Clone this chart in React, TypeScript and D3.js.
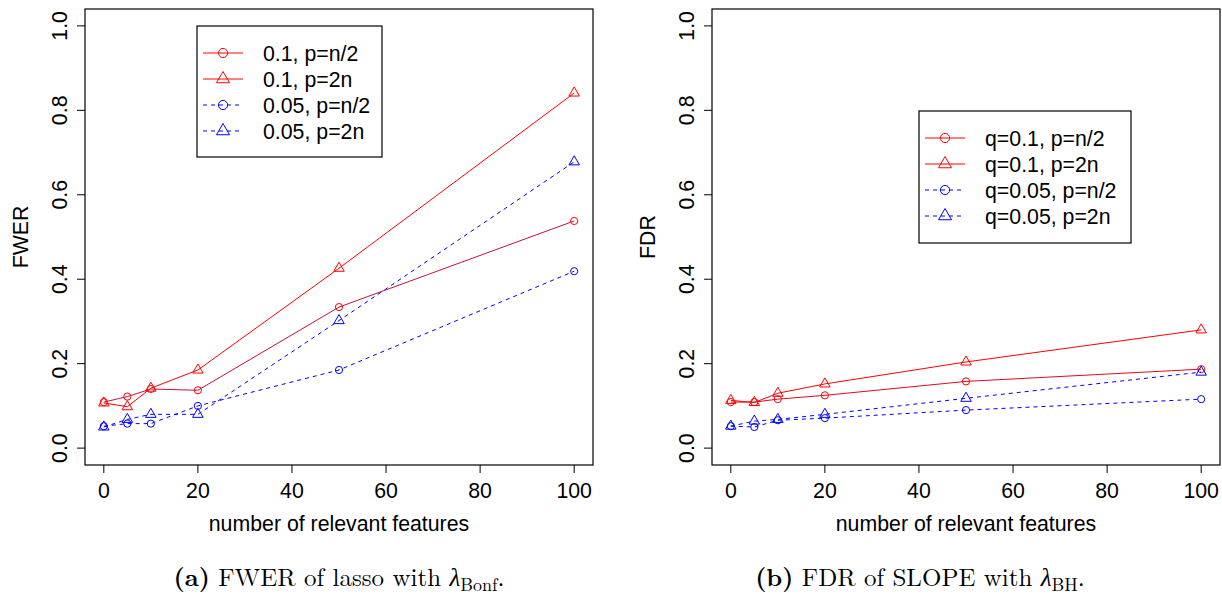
import React from "react";
import * as d3 from "d3";

const xs = [0, 5, 10, 20, 50, 100];
const xTicks = [0, 20, 40, 60, 80, 100];
const yTicks = [0, 0.2, 0.4, 0.6, 0.8, 1.0];

// Left panel (FWER of lasso)
const fwerHalf01 = [0.109, 0.122, 0.14, 0.137, 0.334, 0.538];
const fwer2n01 = [0.107, 0.098, 0.142, 0.185, 0.426, 0.841];
const fwerHalf005 = [0.052, 0.058, 0.058, 0.1, 0.185, 0.419];
const fwer2n005 = [0.05, 0.068, 0.08, 0.08, 0.302, 0.678];

// Right panel (FDR of SLOPE)
const fdrHalf01 = [0.109, 0.109, 0.116, 0.125, 0.158, 0.187];
const fdr2n01 = [0.113, 0.108, 0.13, 0.152, 0.204, 0.28];
const fdrHalf005 = [0.052, 0.05, 0.066, 0.071, 0.09, 0.116];
const fdr2n005 = [0.052, 0.064, 0.068, 0.08, 0.118, 0.18];

const leftLabels = ["0.1, p=n/2", "0.1, p=2n", "0.05, p=n/2", "0.05, p=2n"];
const rightLabels = ["q=0.1, p=n/2", "q=0.1, p=2n", "q=0.05, p=n/2", "q=0.05, p=2n"];

type Series = { values: number[]; color: string; lineColor: string; dashed: boolean; shape: "circle" | "triangle" };

const FONT = "'Liberation Sans', Arial, Helvetica, sans-serif";
const FS = 21.3;

function Marker({ x, y, shape, color, big }: { x: number; y: number; shape: string; color: string; big?: boolean }) {
  if (shape === "circle") {
    return <circle cx={x} cy={y} r={big ? 4.6 : 3.6} fill="none" stroke={color} strokeWidth={1} />;
  }
  const w = big ? 13 : 10.5;
  const area = (Math.sqrt(3) / 4) * w * w;
  const p = d3.symbol(d3.symbolTriangle, area)() as string;
  return <path d={p} transform={`translate(${x},${y})`} fill="none" stroke={color} strokeWidth={1} />;
}

function Panel({
  left, series, labels, ylab, legend,
}: {
  left: number; series: Series[]; labels: string[]; ylab: string;
  legend: { x: number; y: number; w: number; h: number };
}) {
  const x = d3.scaleLinear().domain([-4, 104]).range([left, left + 508]);
  const y = d3.scaleLinear().domain([-0.04, 1.04]).range([465, 9]);
  const line = d3.line<number>().x((_, i) => x(xs[i])).y((d) => y(d));
  const yb = y(-0.04);
  return (
    <g>
      <rect x={x(-4)} y={y(1.04)} width={x(104) - x(-4)} height={yb - y(1.04)} fill="none" stroke="#000" strokeWidth={1.2} />
      {xTicks.map((t) => (
        <g key={"x" + t}>
          <line x1={x(t)} x2={x(t)} y1={yb} y2={yb + 8} stroke="#000" strokeWidth={1} />
          <text x={x(t)} y={yb + 33} textAnchor="middle" fontFamily={FONT} fontSize={FS}>{t}</text>
        </g>
      ))}
      {yTicks.map((t) => (
        <g key={"y" + t}>
          <line x1={x(-4) - 8} x2={x(-4)} y1={y(t)} y2={y(t)} stroke="#000" strokeWidth={1} />
          <text transform={`translate(${x(-4) - 18},${y(t)}) rotate(-90)`} textAnchor="middle" fontFamily={FONT} fontSize={FS}>{t.toFixed(1)}</text>
        </g>
      ))}
      <text x={(x(-4) + x(104)) / 2} y={531} textAnchor="middle" fontFamily={FONT} fontSize={FS}>number of relevant features</text>
      <text transform={`translate(${x(-4) - 57},${(yb + y(1.04)) / 2}) rotate(-90)`} textAnchor="middle" fontFamily={FONT} fontSize={FS}>{ylab}</text>
      {series.map((s, i) => (
        <g key={"s" + i}>
          <path d={line(s.values) as string} fill="none" stroke={s.lineColor} strokeWidth={1} strokeDasharray={s.dashed ? "4,4" : undefined} />
          {s.values.map((v, j) => (
            <Marker key={j} x={x(xs[j])} y={y(v)} shape={s.shape} color={s.color} />
          ))}
        </g>
      ))}
      <rect x={legend.x} y={legend.y} width={legend.w} height={legend.h} fill="#fff" stroke="#000" strokeWidth={1.2} />
      {series.map((s, i) => {
        const ry = legend.y + 27 + i * 26;
        const lx = legend.x + 6;
        return (
          <g key={"l" + i}>
            <line x1={lx} x2={lx + 40} y1={ry} y2={ry} stroke={s.color} strokeWidth={1} strokeDasharray={s.dashed ? "4,4" : undefined} />
            <Marker x={lx + 20} y={ry} shape={s.shape} color={s.color} big />
            <text x={lx + 60} y={ry + 7.5} fontFamily={FONT} fontSize={FS}>{labels[i]}</text>
          </g>
        );
      })}
    </g>
  );
}

export default function App() {
  const leftSeries: Series[] = [
    { values: fwerHalf01, color: "#ff0000", lineColor: "#c4123c", dashed: false, shape: "circle" },
    { values: fwer2n01, color: "#ff0000", lineColor: "#ff0000", dashed: false, shape: "triangle" },
    { values: fwerHalf005, color: "#0000ff", lineColor: "#0000ff", dashed: true, shape: "circle" },
    { values: fwer2n005, color: "#0000ff", lineColor: "#0000ff", dashed: true, shape: "triangle" },
  ];
  const rightSeries: Series[] = [
    { values: fdrHalf01, color: "#ff0000", lineColor: "#e00a1e", dashed: false, shape: "circle" },
    { values: fdr2n01, color: "#ff0000", lineColor: "#ff0000", dashed: false, shape: "triangle" },
    { values: fdrHalf005, color: "#0000ff", lineColor: "#0000ff", dashed: true, shape: "circle" },
    { values: fdr2n005, color: "#0000ff", lineColor: "#0000ff", dashed: true, shape: "triangle" },
  ];
  const SERIF = "'Latin Modern Roman', 'Liberation Serif', 'DejaVu Serif', serif";
  return (
    <svg width={1222} height={598} style={{ position: "absolute", left: 0, top: 0, background: "#fff" }}>
      <rect width={1222} height={598} fill="#fff" />
      <Panel left={85} series={leftSeries} labels={leftLabels} ylab="FWER" legend={{ x: 197, y: 26, w: 185, h: 131 }} />
      <Panel left={712} series={rightSeries} labels={rightLabels} ylab="FDR" legend={{ x: 919, y: 111, w: 212, h: 132 }} />
      <text x={339} y={586} textAnchor="middle" fontFamily={SERIF} fontSize={25}>
        <tspan fontWeight="bold">(a)</tspan> FWER of lasso with <tspan fontStyle="italic">λ</tspan>
        <tspan fontSize={18} dy={5}>Bonf</tspan><tspan dy={-5}>.</tspan>
      </text>
      <text x={920} y={586} textAnchor="middle" fontFamily={SERIF} fontSize={25}>
        <tspan fontWeight="bold">(b)</tspan> FDR of SLOPE with <tspan fontStyle="italic">λ</tspan>
        <tspan fontSize={18} dy={5}>BH</tspan><tspan dy={-5}>.</tspan>
      </text>
    </svg>
  );
}
